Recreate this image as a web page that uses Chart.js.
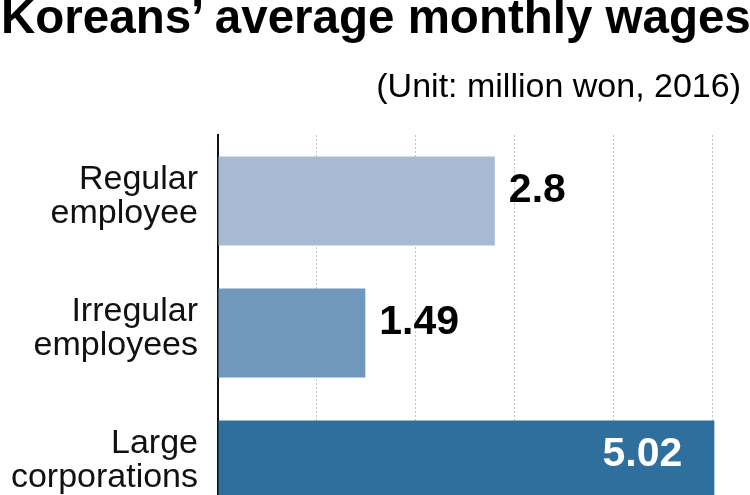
<!DOCTYPE html>
<html>
<head>
<meta charset="utf-8">
<script src="https://cdn.jsdelivr.net/npm/chart.js@4"></script>
<style>
  body { margin: 0; width: 750px; height: 495px; overflow: hidden; background: #fff; }
  #wrap { position: relative; width: 750px; height: 495px; overflow: hidden; }
  #title {
    position: absolute; left: 1px; top: -6px; width: 760px;
    font: bold 47.5px/46px "Liberation Sans", Arial, sans-serif; color: #000;
    white-space: nowrap;
  }
  #unit {
    position: absolute; right: 9px; top: 68px;
    font: 34px/34px "Liberation Sans", Arial, sans-serif; color: #000;
    white-space: nowrap;
  }
  #chartBox { position: absolute; left: 0; top: 0; }
</style>
</head>
<body>
<div id="wrap">
  <div id="chartBox"><canvas id="myChart-wages" width="750" height="531"></canvas></div>
  <div id="title">Koreans’ average monthly wages</div>
  <div id="unit">(Unit: million won, 2016)</div>
</div>
<script>
  // DATA
  const categories = [['Regular', 'employee'], ['Irregular', 'employees'], ['Large', 'corporations']];
  const wages = [2.8, 1.49, 5.02];
  const barColors = ['#a6bbd3', '#7098bd', '#2e6f9e'];
  const xTicks = [0, 1, 2, 3, 4, 5];

  const FONT = '"Liberation Sans", Arial, sans-serif';

  // numbers next to / inside the bars
  const valueLabels = {
    id: 'valueLabels',
    afterDatasetsDraw(chart) {
      const ctx = chart.ctx;
      const meta = chart.getDatasetMeta(0);
      const maxVal = Math.max(...wages);
      ctx.save();
      ctx.font = 'bold 41px ' + FONT;
      ctx.textBaseline = 'alphabetic';
      meta.data.forEach((bar, i) => {
        const inside = wages[i] === maxVal;
        ctx.fillStyle = inside ? '#ffffff' : '#000000';
        ctx.textAlign = inside ? 'right' : 'left';
        const x = inside ? bar.x - 32 : bar.x + 14;
        ctx.fillText(String(wages[i]), x, bar.y + 1);
      });
      ctx.restore();
    }
  };

  function createChart() {
    const ctx = document.getElementById('myChart-wages').getContext('2d');
    new Chart(ctx, {
      type: 'bar',
      data: {
        labels: categories,
        datasets: [{
          data: wages,
          backgroundColor: barColors,
          borderWidth: 0,
          barPercentage: 0.675,
          categoryPercentage: 1
        }]
      },
      options: {
        indexAxis: 'y',
        responsive: false,
        animation: false,
        devicePixelRatio: 1,
        layout: { padding: { top: 135, right: 8, left: 0, bottom: 0 } },
        plugins: {
          legend: { display: false },
          tooltip: { enabled: false }
        },
        scales: {
          x: {
            min: 0,
            max: 5.3,
            afterBuildTicks: s => { s.ticks = xTicks.map(v => ({ value: v })); },
            afterFit: s => { s.height = 0; s.paddingLeft = 0; s.paddingRight = 0; },
            ticks: { display: false },
            border: { display: false, dash: [2, 2] },
            grid: {
              drawTicks: false,
              color: '#c4c4c4',
              lineWidth: 1
            }
          },
          y: {
            z: 1,
            afterFit: s => { s.width = 218; s.paddingTop = 0; s.paddingBottom = 0; },
            border: { display: true, color: '#111', width: 2 },
            grid: { display: false, drawTicks: false },
            ticks: {
              color: '#111',
              padding: 20,
              labelOffset: -4,
              font: { family: FONT, size: 34, lineHeight: 1 }
            }
          }
        }
      },
      plugins: [valueLabels]
    });
  }

  window.onload = function () {
    createChart();
  };
</script>
</body>
</html>
